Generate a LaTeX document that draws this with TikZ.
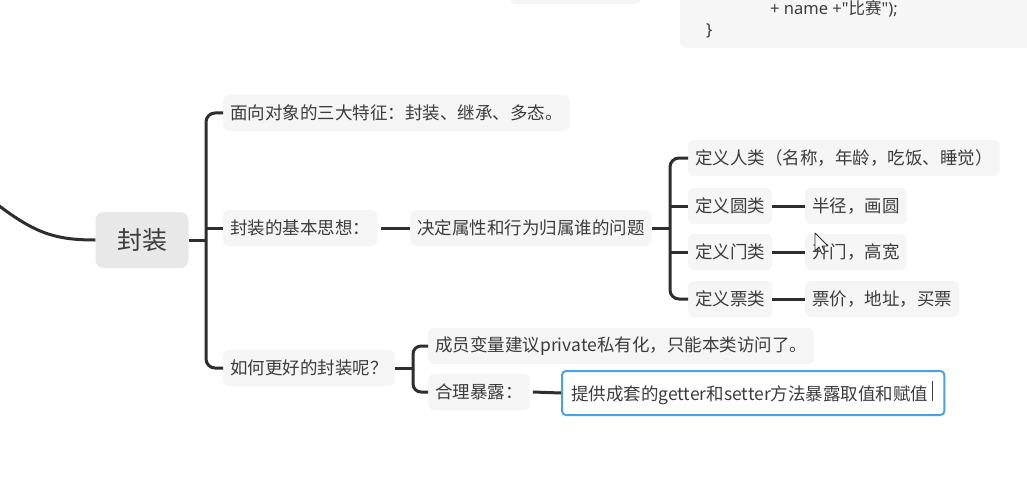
\documentclass[tikz,border=0pt]{standalone}
\usepackage{fontspec}
\setmainfont{Noto Sans CJK SC}
\newfontfamily\latinf{Noto Sans}
\definecolor{txt}{HTML}{3C3C3C}
\definecolor{boxfill}{HTML}{F5F5F5}
\definecolor{codefill}{HTML}{F6F6F6}
\definecolor{rootfill}{HTML}{E8E8E8}
\definecolor{linec}{HTML}{2E2E2E}
\definecolor{selblue}{HTML}{4AA3E0}
\begin{document}
\begin{tikzpicture}[x=1pt,y=-1pt,
  topic/.style={fill=boxfill, rounded corners=6pt, text=txt,
    font=\fontsize{17.5}{20}\selectfont, inner xsep=7pt, inner ysep=0pt,
    minimum height=36pt, anchor=west},
  rootnode/.style={fill=rootfill, rounded corners=8pt, text=txt,
    font=\fontsize{25}{28}\selectfont, minimum width=93pt, minimum height=56pt},
  seltopic/.style={topic, fill=white, draw=selblue, line width=2pt,
    rounded corners=4pt, minimum height=44pt, inner xsep=9pt},
  conn/.style={draw=linec, line width=3pt},
  codetext/.style={text=txt, font=\fontsize{16.5}{19}\selectfont, inner sep=0pt},
]
\useasboundingbox (0,0) rectangle (1027,484);
\fill[white] (0,0) rectangle (1027,484);

% fragments of boxes at the top
\fill[boxfill, rounded corners=6pt] (510,-20) rectangle (641,4);
\fill[codefill, rounded corners=7pt] (680,-20) rectangle (1045,48);
\node[codetext, anchor=west] (code1) at (770,9) {{\latinf + name +\char"0022}比赛{\latinf\char"0022);}};
\node[codetext, anchor=west] (code2) at (706,31) {{\latinf\}}};

% root
\node[rootnode] (root) at (142,240) {封装};
\coordinate (lstart) at (-2,205);
\draw[conn] (lstart) .. controls (35,233) and (55,240) .. (root.west);

% level 1
\node[topic] (t1) at (223,113) {面向对象的三大特征：封装、继承、多态。};
\node[topic] (t2) at (223,228) {封装的基本思想：};
\node[topic] (t3) at (223,368) {如何更好的封装呢？};
\coordinate (b1) at (206,240);
\draw[conn] (root.east) -- (b1);
\draw[conn, rounded corners=9pt] (t1.west) -- (t1.west -| b1) -- (t3.west -| b1) -- (t3.west);
\draw[conn] (t2.west -| b1) -- (t2.west);

% level 2 under t2
\node[topic] (dec) at (410,228) {决定属性和行为归属谁的问题};
\draw[conn] (t2.east) ++(4,0) coordinate (t2e) -- (dec.west);
\node[topic] (p1) at (688,158) {定义人类（名称，年龄，吃饭、睡觉）};
\node[topic] (p2) at (688,206) {定义圆类};
\node[topic] (p3) at (688,252) {定义门类};
\node[topic] (p4) at (688,299) {定义票类};
\coordinate (b2) at (670,228);
\draw[conn] (dec.east) -- (b2);
\draw[conn, rounded corners=9pt] (p1.west) -- (p1.west -| b2) -- (p4.west -| b2) -- (p4.west);
\draw[conn] (p2.west -| b2) -- (p2.west);
\draw[conn] (p3.west -| b2) -- (p3.west);

\node[topic] (q2) at (805,206) {半径，画圆};
\node[topic] (q3) at (805,252) {开门，高宽};
\node[topic] (q4) at (805,299) {票价，地址，买票};
\draw[conn] (p2.east) -- (q2.west);
\draw[conn] (p3.east) -- (q3.west);
\draw[conn] (p4.east) -- (q4.west);

% level 2 under t3
\node[topic] (m1) at (428,346) {成员变量建议private私有化，只能本类访问了。};
\node[topic] (m2) at (428,392) {合理暴露：};
\coordinate (b3) at (413,368);
\draw[conn] (t3.east) -- (b3);
\draw[conn, rounded corners=8pt] (m1.west) -- (m1.west -| b3) -- (m2.west -| b3) -- (m2.west);

\node[seltopic] (s1) at (561,393) {提供成套的getter和setter方法暴露取值和赋值\kern4pt\rule{1pt}{20pt}\kern2pt};
\draw[conn] (m2.east) ++(3,0) -- (s1.west);

% mouse pointer
\draw[fill=white, draw=linec, line width=0.8pt, line join=round]
  (815,233) -- (815,251) -- (819,247) -- (822,254) -- (825,253) -- (822,246) -- (828,246) -- cycle;
\end{tikzpicture}
\end{document}
